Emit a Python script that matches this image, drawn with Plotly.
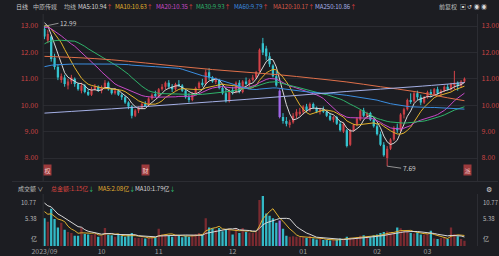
import pandas as pd
import plotly.graph_objects as go

W, H = 499, 256

# ---------------- data ----------------
month_labels = ["2023/09", "10", "11", "12", "01", "02", "03"]
month_first_index = [0, 17, 34, 56, 77, 99, 114]

open_prices = [
    12.90, 12.45, 12.60, 11.80, 11.45, 10.95, 11.05, 10.75, 10.90, 11.00, 10.80, 10.55, 10.75, 10.50, 10.40, 10.60, 10.70,
    10.55, 10.65, 10.85, 10.60, 10.45, 10.55, 10.40, 10.30, 10.10, 9.95, 9.60, 9.80, 9.90, 10.05, 10.00, 10.25, 10.40,
    10.35, 10.60, 10.70, 10.85, 10.70, 10.60, 10.80, 10.75, 10.55, 10.30, 10.20, 10.45, 10.65, 10.85, 10.80, 11.25, 11.05, 10.90, 10.95, 10.65, 10.45, 10.15,
    10.55, 10.50, 10.85, 10.50, 10.90, 10.80, 10.95, 11.05, 11.30, 12.35, 12.15, 11.85, 11.50, 11.10, 10.55, 9.55, 9.40, 9.25, 9.35, 9.60, 9.70,
    9.75, 9.95, 9.80, 10.05, 9.90, 9.75, 9.85, 9.75, 9.60, 9.45, 9.55, 9.30, 9.00, 9.05, 8.50, 9.05, 9.25, 9.45, 9.80, 9.60, 9.70, 9.45,
    9.20, 8.90, 8.50, 8.00, 8.35, 8.70, 9.15, 9.05, 9.65, 9.85, 10.20, 10.15, 10.45, 10.30, 10.10,
    10.30, 10.50, 10.40, 10.60, 10.45, 10.55, 10.70, 10.60, 10.75, 10.85, 10.75, 10.90,
]
high_prices = [
    12.99, 12.85, 12.65, 11.95, 11.55, 11.20, 11.15, 11.00, 11.15, 11.05, 10.85, 10.85, 10.80, 10.60, 10.70, 10.80, 10.75,
    10.75, 10.95, 10.90, 10.65, 10.65, 10.60, 10.45, 10.35, 10.15, 10.00, 9.85, 9.95, 10.10, 10.15, 10.30, 10.45, 10.55,
    10.65, 10.80, 10.90, 10.95, 10.80, 10.85, 10.95, 10.80, 10.60, 10.45, 10.50, 10.70, 10.90, 11.00, 11.35, 11.40, 11.10, 11.05, 11.00, 10.75, 10.65, 10.60,
    10.70, 10.90, 10.95, 10.95, 11.05, 11.00, 11.15, 11.30, 12.15, 12.55, 12.25, 12.00, 11.55, 11.30, 10.60, 9.70, 9.55, 9.45, 9.70, 9.85, 9.90,
    10.00, 10.05, 10.10, 10.10, 9.95, 9.90, 9.95, 9.80, 9.70, 9.60, 9.60, 9.40, 9.35, 9.10, 9.10, 9.30, 9.55, 9.85, 9.90, 9.75, 9.75, 9.50,
    9.30, 9.00, 8.60, 8.45, 8.75, 9.20, 9.30, 9.70, 9.90, 10.25, 10.45, 10.50, 10.55, 10.40, 10.35,
    10.55, 10.60, 10.65, 10.70, 10.60, 10.75, 10.80, 10.85, 11.30, 10.90, 10.95, 11.05,
]
low_prices = [
    12.50, 12.35, 11.65, 11.35, 10.95, 10.85, 10.70, 10.60, 10.80, 10.70, 10.55, 10.45, 10.45, 10.35, 10.35, 10.55, 10.50,
    10.45, 10.60, 10.55, 10.40, 10.40, 10.35, 10.20, 10.05, 9.85, 9.50, 9.55, 9.70, 9.85, 9.95, 9.95, 10.20, 10.30,
    10.30, 10.55, 10.60, 10.65, 10.50, 10.55, 10.70, 10.50, 10.25, 10.10, 10.15, 10.40, 10.60, 10.70, 10.75, 10.95, 10.85, 10.80, 10.60, 10.40, 10.10, 10.10,
    10.40, 10.45, 10.45, 10.45, 10.75, 10.70, 10.90, 11.00, 11.25, 11.90, 11.70, 11.45, 11.05, 10.70, 9.50, 9.30, 9.20, 9.15, 9.30, 9.50, 9.60,
    9.65, 9.75, 9.75, 9.85, 9.70, 9.65, 9.70, 9.55, 9.40, 9.35, 9.25, 9.00, 8.95, 8.40, 8.45, 9.00, 9.20, 9.40, 9.55, 9.50, 9.40, 9.15,
    8.85, 8.45, 8.05, 7.69, 8.30, 8.65, 8.95, 9.00, 9.50, 9.80, 10.05, 10.10, 10.20, 10.00, 10.05,
    10.25, 10.30, 10.35, 10.40, 10.35, 10.50, 10.55, 10.55, 10.60, 10.55, 10.65, 10.85,
]
close_prices = [
    12.60, 12.70, 11.75, 11.45, 11.05, 11.10, 10.80, 10.90, 11.05, 10.80, 10.60, 10.75, 10.50, 10.40, 10.60, 10.70, 10.55,
    10.65, 10.85, 10.60, 10.45, 10.55, 10.40, 10.30, 10.10, 9.95, 9.60, 9.80, 9.90, 10.05, 10.00, 10.25, 10.40, 10.35,
    10.60, 10.70, 10.85, 10.70, 10.60, 10.80, 10.75, 10.55, 10.30, 10.20, 10.45, 10.65, 10.85, 10.80, 11.25, 11.05, 10.90, 10.95, 10.65, 10.45, 10.15, 10.55,
    10.50, 10.85, 10.50, 10.90, 10.80, 10.95, 11.05, 11.25, 12.10, 12.00, 11.85, 11.55, 11.10, 10.75, 9.55, 9.40, 9.30, 9.35, 9.60, 9.75, 9.75,
    9.95, 9.80, 10.05, 9.90, 9.75, 9.85, 9.75, 9.60, 9.45, 9.55, 9.30, 9.05, 9.30, 8.45, 9.05, 9.25, 9.50, 9.80, 9.60, 9.70, 9.45, 9.20,
    8.90, 8.50, 8.10, 8.35, 8.70, 9.15, 9.05, 9.65, 9.85, 10.20, 10.15, 10.45, 10.30, 10.10, 10.30,
    10.50, 10.40, 10.60, 10.45, 10.55, 10.70, 10.60, 10.80, 10.85, 10.75, 10.90, 11.00,
]
# turnover, 100 million yuan
volumes = [
    6.0, 5.2, 8.0, 5.8, 4.0, 5.0, 3.5, 3.0, 2.8, 2.2, 2.2, 4.0, 2.6, 2.5, 2.4, 2.6, 2.0,
    2.2, 3.9, 2.4, 2.3, 2.0, 2.5, 2.2, 2.0, 2.4, 2.8, 1.8, 1.7, 1.8, 1.6, 1.8, 2.0, 1.9,
    3.7, 2.5, 2.6, 2.2, 2.0, 2.4, 2.3, 1.9, 2.2, 2.0, 2.4, 2.6, 2.8, 2.5, 6.0, 4.0, 3.8, 3.5, 3.9, 3.2, 3.6, 3.7,
    2.5, 3.8, 2.8, 3.9, 3.0, 2.9, 2.8, 3.0, 9.9, 10.77, 7.0, 6.5, 6.0, 5.0, 5.5, 3.7, 2.2, 2.0, 2.1, 2.0, 1.9,
    1.9, 1.7, 2.2, 1.6, 1.4, 1.5, 1.3, 1.3, 1.2, 1.3, 1.4, 1.6, 1.5, 2.0, 1.8, 1.7, 1.9, 2.2, 2.3, 2.0, 1.9, 2.3,
    2.5, 2.8, 3.0, 3.2, 2.9, 2.7, 4.0, 3.8, 3.2, 3.0, 2.8, 2.7, 2.9, 2.5, 2.4,
    2.6, 3.3, 1.6, 1.5, 1.7, 1.8, 1.5, 4.0, 2.6, 2.1, 1.5, 1.15,
]
# closes / turnover before the first visible day (seed the moving averages)
prior_close = [
    10.5, 10.6, 10.7, 10.6, 10.5, 10.4, 10.5, 10.6, 10.7, 10.8,
    10.7, 10.6, 10.5, 10.6, 10.7, 10.6, 10.5, 10.6, 10.7, 10.8,
    10.7, 10.6, 10.5, 10.4, 10.5, 10.6, 10.7, 10.6, 10.5, 10.6,
    10.5, 10.6, 10.7, 10.8, 10.9, 11.0, 11.1, 11.0, 11.2, 11.3,
    12.2, 12.6, 12.9, 13.1, 12.8, 13.0, 12.9, 13.2, 12.8, 12.5,
    12.9, 13.0, 12.8, 13.1, 12.7, 13.0, 13.3, 13.4, 13.2, 13.1,
]
prior_volume = [12.0, 11.0, 10.5, 13.0, 12.0, 9.0, 8.0, 7.5, 8.5, 7.0]

# long moving averages
long_ma_index = [0, 10, 20, 30, 40, 50, 60, 70, 80, 90, 100, 110, 120, 125]
ma120_values = [11.85, 11.80, 11.72, 11.60, 11.47, 11.35, 11.25, 11.15, 11.02, 10.88, 10.70, 10.52, 10.28, 10.17]
ma250_values = [9.70, 9.78, 9.86, 9.95, 10.04, 10.13, 10.22, 10.32, 10.42, 10.52, 10.61, 10.70, 10.80, 10.86]

special_index = [70]          # purple candle
event_index = [1, 30, 126]
event_text = ["权", "财", "派"]

price_ticks = [8, 9, 10, 11, 12, 13]

# ---------------- styling ----------------
BG = "#1c1d22"
GRID = "#2a2b31"
UP_LINE = "#d4444a"
UP_FILL = "#b8393f"
DN = "#35c3cf"
PURPLE = "#a066e8"
VOL_UP = "#7a2a30"
VOL_DN = "#33b9c6"
FONT = "Noto Sans CJK SC, Noto Sans, sans-serif"
MA_COLORS = {5: "#d8d8d8", 10: "#e2b22c", 20: "#c84ac8", 30: "#2fb36b", 60: "#3b8ee0"}
MA120_COLOR = "#e0704a"
MA250_COLOR = "#a5b0e6"

n = len(close_prices)
idx = list(range(n))

fig = go.Figure()

ups = [i for i in idx if close_prices[i] >= open_prices[i] and i not in special_index]
dns = [i for i in idx if close_prices[i] < open_prices[i] and i not in special_index]


def bodies(ids, fill, name):
    return go.Bar(
        x=ids,
        y=[max(abs(close_prices[i] - open_prices[i]), 0.02) for i in ids],
        base=[min(close_prices[i], open_prices[i]) for i in ids],
        width=0.68, marker=dict(color=fill, line=dict(width=0)),
        xaxis="x", yaxis="y", name=name,
    )


def wicks(ids, color):
    xs, ys = [], []
    for i in ids:
        xs += [i, i, None]
        ys += [low_prices[i], high_prices[i], None]
    return go.Scatter(x=xs, y=ys, mode="lines", line=dict(color=color, width=1),
                      xaxis="x", yaxis="y")


fig.add_trace(wicks(ups, UP_LINE))
fig.add_trace(wicks(dns, DN))
fig.add_trace(wicks(special_index, PURPLE))
fig.add_trace(bodies(ups, UP_FILL, "up"))
fig.add_trace(bodies(dns, DN, "down"))
fig.add_trace(bodies(special_index, PURPLE, "special"))

# moving averages
all_close = pd.Series(prior_close + close_prices)
for p, col in MA_COLORS.items():
    ma = all_close.rolling(p).mean().iloc[len(prior_close):].tolist()
    fig.add_trace(go.Scatter(x=idx, y=ma, mode="lines", line=dict(color=col, width=1),
                             xaxis="x", yaxis="y"))
fig.add_trace(go.Scatter(x=long_ma_index, y=ma120_values, mode="lines",
                         line=dict(color=MA120_COLOR, width=1, shape="spline"), xaxis="x", yaxis="y"))
fig.add_trace(go.Scatter(x=long_ma_index, y=ma250_values, mode="lines",
                         line=dict(color=MA250_COLOR, width=1, shape="spline"), xaxis="x", yaxis="y"))

# volume
for ids, col in ((ups, VOL_UP), (dns, VOL_DN), (special_index, PURPLE)):
    fig.add_trace(go.Bar(x=ids, y=[volumes[i] for i in ids], width=0.68,
                         marker=dict(color=col, line=dict(width=0)), xaxis="x2", yaxis="y2"))
all_vol = pd.Series(prior_volume + volumes)
for p, col in ((5, "#e0b030"), (10, "#d8d8d8")):
    vma = all_vol.rolling(p).mean().iloc[len(prior_volume):].tolist()
    fig.add_trace(go.Scatter(x=idx, y=vma, mode="lines", line=dict(color=col, width=1),
                             xaxis="x2", yaxis="y2"))

# ---------------- layout ----------------
def xp(px):
    return px / W


def yp(py):
    return 1 - py / H


XR = [-0.39, 128.9]
YR = [8 - 23 / 26.4, 13 + 12 / 26.4]
tick_font = dict(family=FONT, size=7, color="#c94343")

ann = []


def text(x, y, s, color="#bdbdbd", size=6, xanchor="left", yanchor="middle", **kw):
    ann.append(dict(x=xp(x), y=yp(y), xref="paper", yref="paper", text=s, showarrow=False,
                    xanchor=xanchor, yanchor=yanchor,
                    font=dict(family=FONT, size=size, color=color), **kw))


UPA = '<span style="color:#e04040">↑</span>'
DNA = '<span style="color:#2fbf71">↓</span>'
text(2, 6.5, "日线", "#d0d0d0")
text(20, 6.5, "中原传媒", "#bdbdbd")
text(51, 6.5, "均线", "#bdbdbd")
text(66, 6.5, "MA5:10.94" + UPA, MA_COLORS[5])
text(104, 6.5, "MA10:10.63" + UPA, MA_COLORS[10])
text(146, 6.5, "MA20:10.35" + UPA, MA_COLORS[20])
text(187, 6.5, "MA30:9.93" + UPA, MA_COLORS[30])
text(226, 6.5, "MA60:9.79" + UPA, MA_COLORS[60])
text(266, 6.5, "MA120:10.17" + UPA, "#d85a48")
text(309, 6.5, "MA250:10.86" + UPA, MA250_COLOR)
text(436, 6.5, "前复权", "#bdbdbd")
text(458, 6.5, "▣ ↺ ◉ ◉", "#d8d8d8", size=6)

text(4, 188.5, "成交额 ∨", "#bdbdbd")
text(38, 188.5, "总金额:1.15亿" + DNA, "#d9443f")
text(86, 188.5, "MA5:2.08亿" + DNA, "#e0b030")
text(124, 188.5, "MA10:1.79亿" + DNA, "#d8d8d8")
text(490, 188.5, "⚙", "#d8d8d8", size=7, xanchor="center")

# volume scale labels
for side_x, anchor in ((28, "right"), (482, "left")):
    text(side_x, 196, "10.77", "#b8b8b8", size=6, xanchor=anchor, yanchor="top")
    text(side_x, 218, "5.38", "#b8b8b8", size=6, xanchor=anchor)
    text(side_x, 245, "亿", "#b8b8b8", size=6, xanchor=anchor, yanchor="bottom")

# high / low labels
hi_i = max(idx, key=lambda i: high_prices[i])
lo_i = min(idx, key=lambda i: low_prices[i])
for i, val, ay in ((hi_i, high_prices[hi_i], -3), (lo_i, low_prices[lo_i], 2)):
    ann.append(dict(x=i, y=val, xref="x", yref="y", text=f"{val:.2f}", showarrow=True,
                    arrowhead=0, arrowwidth=0.8, arrowcolor="#b0b0b0", ax=14, ay=ay,
                    xanchor="left", font=dict(family=FONT, size=6.5, color="#c8c8c8")))

# event markers
for i, t in zip(event_index, event_text):
    ann.append(dict(x=i, y=yp(176), xref="x", yref="paper", text=t, showarrow=False,
                    bgcolor="#9c3a3c", borderpad=0.5,
                    font=dict(family=FONT, size=6, color="#f0d0d0")))

shapes = [
    dict(type="line", xref="paper", yref="paper", x0=0, x1=1, y0=yp(181.5), y1=yp(181.5),
         line=dict(color="#2c2d33", width=1)),
]
for xx in (32, 478):
    for y0, y1 in ((14, 181), (194, 246)):
        shapes.append(dict(type="line", xref="paper", yref="paper", x0=xp(xx), x1=xp(xx),
                           y0=yp(y0), y1=yp(y1), line=dict(color="#2e2f35", width=1)))

fig.update_layout(
    width=W, height=H, margin=dict(l=0, r=0, t=0, b=0),
    paper_bgcolor=BG, plot_bgcolor=BG, showlegend=False, hovermode=False,
    barmode="overlay",
    xaxis=dict(domain=[xp(32), xp(478)], range=XR, anchor="y", showticklabels=False,
               showgrid=False, zeroline=False),
    xaxis2=dict(domain=[xp(32), xp(478)], range=XR, anchor="y2", matches="x",
                tickmode="array", tickvals=month_first_index, ticktext=month_labels,
                tickfont=dict(family=FONT, size=7, color="#a0a0a0"), ticks="",
                showgrid=False, zeroline=False, ticklabelstandoff=0),
    yaxis=dict(domain=[yp(181), yp(14)], range=YR, tickmode="array", tickvals=price_ticks,
               ticktext=[f"{v:.2f}" for v in price_ticks], tickfont=tick_font,
               gridcolor=GRID, gridwidth=1, zeroline=False, side="left", ticks="",
               ticklabelstandoff=4, anchor="x"),
    yaxis3=dict(overlaying="y", side="right", range=YR, tickmode="array", tickvals=price_ticks,
                ticktext=[f"{v:.2f}" for v in price_ticks], tickfont=tick_font,
                showgrid=False, zeroline=False, ticks="", ticklabelstandoff=3, anchor="x"),
    yaxis2=dict(domain=[yp(246), yp(194)], range=[0, 11.2], showticklabels=False,
                showgrid=False, zeroline=False, anchor="x2"),
    annotations=ann, shapes=shapes,
)
# dummy trace to make the right axis render
fig.add_trace(go.Scatter(x=[None], y=[None], xaxis="x", yaxis="y3"))

fig.write_html("out.html")
